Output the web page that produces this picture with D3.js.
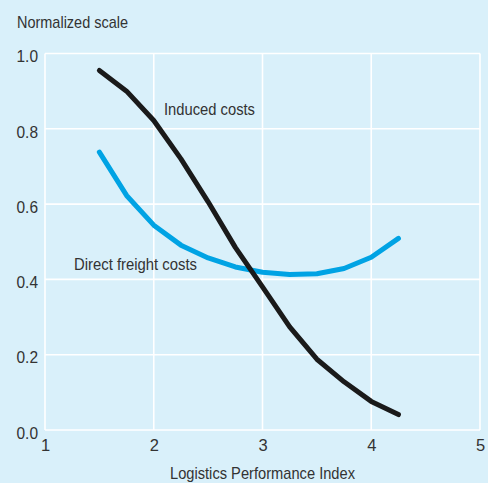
<!DOCTYPE html>
<html><head><meta charset="utf-8">
<script src="https://cdn.jsdelivr.net/npm/d3@7"></script>
<style>
html,body{margin:0;padding:0;background:#d9f0fa;}
svg{display:block;}
text{font-family:"Liberation Sans",Arial,sans-serif;fill:#333;}
</style></head>
<body>
<svg id="chart" width="488" height="483"></svg>
<script>
const lpi = [1.5, 1.75, 2.0, 2.25, 2.5, 2.75, 3.0, 3.25, 3.5, 3.75, 4.0, 4.25];
const inducedCosts = [0.955, 0.90, 0.822, 0.72, 0.606, 0.485, 0.38, 0.274, 0.188, 0.128, 0.076, 0.041];
const directFreightCosts = [0.738, 0.623, 0.544, 0.491, 0.457, 0.433, 0.419, 0.413, 0.415, 0.429, 0.459, 0.509];
const xTicks = [1, 2, 3, 4, 5];
const yTicks = [0, 0.2, 0.4, 0.6, 0.8, 1.0];
const seriesNames = ["Induced costs", "Direct freight costs"];

const svg = d3.select("#chart");
svg.append("rect").attr("width", 488).attr("height", 483).attr("fill", "#d9f0fa");

const x = d3.scaleLinear().domain([1, 5]).range([45, 480]);
const y = d3.scaleLinear().domain([0, 1]).range([430, 53.5]);

// grid
const g = svg.append("g");
g.selectAll(".vg").data(xTicks).join("line")
  .attr("x1", d => x(d)).attr("x2", d => x(d))
  .attr("y1", y(1)).attr("y2", y(0))
  .attr("stroke", "#fff").attr("stroke-width", 1.6);
g.selectAll(".hg").data(yTicks).join("line")
  .attr("x1", x(1)).attr("x2", x(5))
  .attr("y1", d => y(d)).attr("y2", d => y(d))
  .attr("stroke", "#fff").attr("stroke-width", 1.6);

const FONT = '"Liberation Sans",Arial,sans-serif';
// axes labels via d3 axes
const yAxis = d3.axisLeft(y).tickValues(yTicks).tickFormat(d3.format(".1f")).tickSize(0).tickPadding(7);
const ya = svg.append("g").attr("transform", `translate(${x(1)},0)`).call(yAxis);
ya.select(".domain").remove();
ya.selectAll("text").attr("font-size", 16.5).attr("dy", "0.5em").attr("fill", "#333")
  .attr("textLength", 21.5).attr("lengthAdjust", "spacingAndGlyphs")
  .style("font-family", FONT);

const xAxis = d3.axisBottom(x).tickValues(xTicks).tickFormat(d3.format("d")).tickSize(0).tickPadding(9);
const xa = svg.append("g").attr("transform", `translate(0,${y(0)})`).call(xAxis);
xa.select(".domain").remove();
xa.selectAll("text").attr("font-size", 16.5).attr("fill", "#333")
  .style("font-family", FONT);

// lines
const line = d3.line().x((d, i) => x(lpi[i])).y(d => y(d));
svg.append("path").datum(directFreightCosts).attr("d", line)
  .attr("fill", "none").attr("stroke", "#00a3e4").attr("stroke-width", 5)
  .attr("stroke-linecap", "round").attr("stroke-linejoin", "round");
svg.append("path").datum(inducedCosts).attr("d", line)
  .attr("fill", "none").attr("stroke", "#1a1a1a").attr("stroke-width", 5)
  .attr("stroke-linecap", "round").attr("stroke-linejoin", "round");

// titles
function label(tx, ty, txt, w, anchor) {
  svg.append("text").attr("x", tx).attr("y", ty).attr("font-size", 17)
    .attr("text-anchor", anchor || "start")
    .attr("textLength", w).attr("lengthAdjust", "spacingAndGlyphs").text(txt);
}
label(17, 28, "Normalized scale", 111);
label(x(3), 479, "Logistics Performance Index", 185, "middle");
label(164, 115, seriesNames[0], 91);
label(74, 269.5, seriesNames[1], 123);
</script>
</body></html>
